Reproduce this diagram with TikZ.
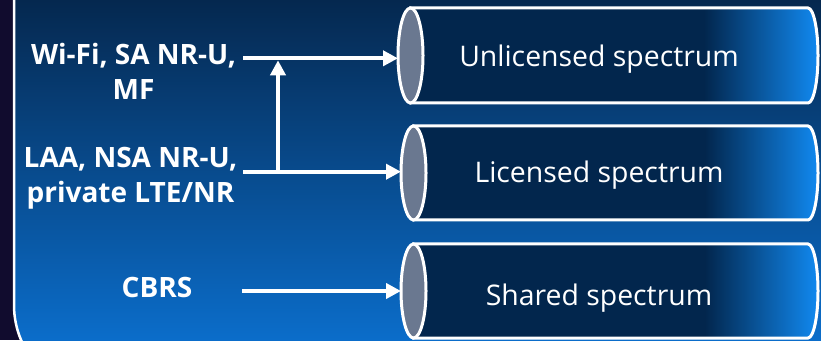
\documentclass[tikz,border=0pt]{standalone}
\usepackage{fontspec}
\setmainfont{Open Sans}
\usetikzlibrary{arrows.meta}
\definecolor{spacebg}{HTML}{110C2E}
\definecolor{paneltop}{HTML}{05284F}
\definecolor{panelmid}{HTML}{094682}
\definecolor{panelbot}{HTML}{0B6DCA}
\definecolor{pipedark}{HTML}{02264D}
\definecolor{pipebright}{HTML}{1189F0}
\definecolor{pipeface}{HTML}{6A7890}
\pgfdeclarehorizontalshading{pipeshade}{100bp}{color(0bp)=(pipedark); color(61bp)=(pipedark); color(75bp)=(pipebright); color(100bp)=(pipebright)}
\newcommand{\spectrumpipe}[6]{%
  \shadedraw[shading=pipeshade,draw=white,line width=3pt] (#2+12.5,#3+#4) -- (808,#3+#4) arc[start angle=90,end angle=-90,x radius=10,y radius=#4] -- (#2+12.5,#3-#4) -- cycle;
  \draw[white,line width=3pt,fill=pipeface] (#2+12.5,#3) ellipse[x radius=12.5,y radius=#4];
  \node[pipelabel] (#1) at (599,#6) {#5};
  \coordinate (#1-in) at (#2,#3);
}

\begin{document}
\begin{tikzpicture}[x=1pt,y=1pt]
\tikzstyle{pipelabel}=[white,anchor=base,inner sep=0pt,font=\fontsize{28.4}{34}\selectfont]
\tikzstyle{srclabel}=[white,anchor=base,inner sep=0pt,align=center,font=\bfseries\fontsize{28}{35}\selectfont]
\tikzstyle{arr}=[white,line width=4pt,-{Triangle[length=15pt,width=15pt]}]
\useasboundingbox (0,0) rectangle (821,340);
\clip (0,0) rectangle (821,340);
\fill[spacebg] (0,0) rectangle (821,340);
\begin{scope}
  \clip (14,360) -- (14,35) arc[start angle=180,end angle=270,radius=90] -- (900,-55) -- (900,360) -- cycle;
  \shade[top color=paneltop,middle color=panelmid,bottom color=panelbot] (0,0) rectangle (821,340);
\end{scope}
\draw[white,line width=2.5pt] (14,360) -- (14,35) arc[start angle=180,end angle=270,radius=90];

\spectrumpipe{unlic}{398}{284.5}{47.5}{Unlicensed spectrum}{273}
\spectrumpipe{lic}{401}{167}{47}{Licensed spectrum}{157}
\spectrumpipe{shared}{401}{49}{47}{Shared spectrum}{35}

\node[srclabel] (wifi) at (133.5,240) {Wi-Fi, SA NR-U,\\MF};
\node[srclabel] (laa) at (130.5,137) {LAA, NSA NR-U,\\private LTE/NR};
\node[srclabel] (cbrs) at (157,43) {CBRS};

\coordinate (wifi-out) at (243,281.7);
\coordinate (laa-out) at (243,168.3);
\coordinate (cbrs-out) at (242,49);
\coordinate (split) at (278,168.3);

\draw[arr] (wifi-out) -- (wifi-out -| unlic-in);
\draw[arr] (laa-out) -- (laa-out -| lic-in);
\draw[arr] (split) -- ([yshift=-2pt]split |- wifi-out);
\draw[arr] (cbrs-out) -- (cbrs-out -| shared-in);
\end{tikzpicture}
\end{document}
